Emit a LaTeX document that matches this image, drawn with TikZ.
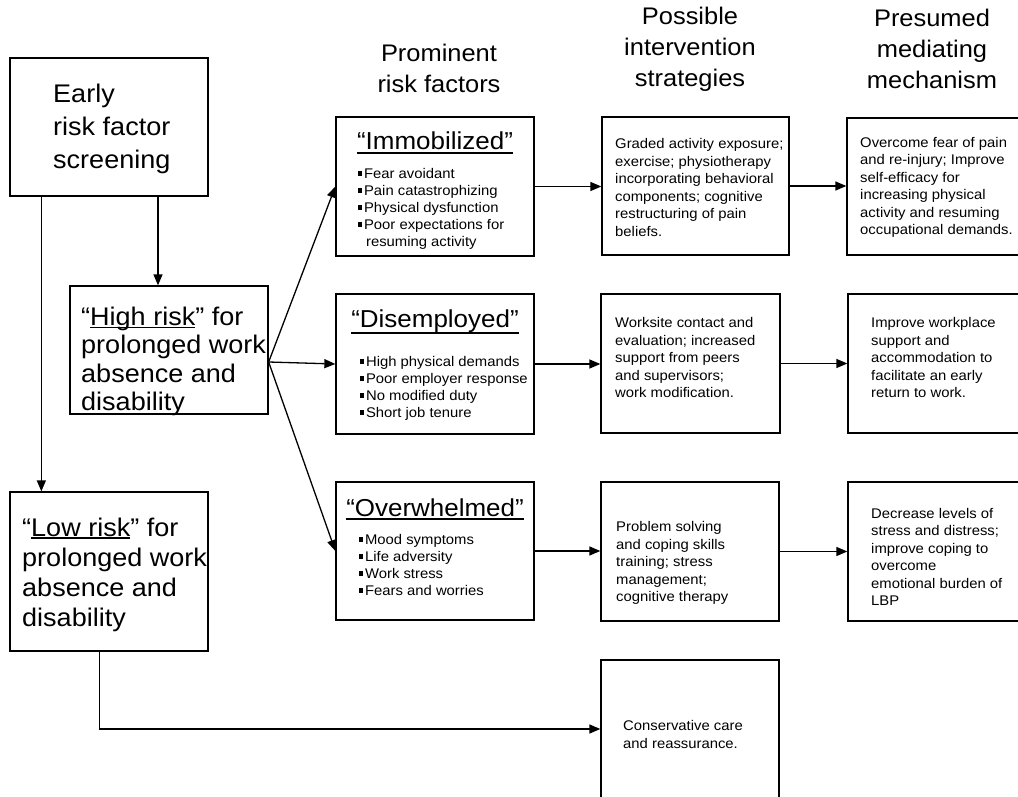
\documentclass[tikz,border=0pt]{standalone}
\usepackage{fontspec}
\setmainfont{Liberation Sans}[FakeStretch=1.06]
\usepackage{tikz}
\usetikzlibrary{arrows.meta}

% small square bullet and thick underline
\newcommand\sqb{\rule[0.2em]{0.3em}{0.3em}\hspace{0.12em}}
\newcommand\hul[1]{\setbox0=\hbox{#1}\rlap{\rule[-3pt]{\wd0}{1.6pt}}\box0}

\begin{document}
\begin{tikzpicture}[
    x=1pt, y=-1pt,
    box/.style={
        draw,
        line width=1.3pt,
        inner sep=0pt
    },
    big/.style={
        anchor=west,
        align=left,
        inner sep=0pt,
        font=\fontsize{25.5}{29}\selectfont
    },
    small/.style={
        anchor=west,
        align=left,
        inner sep=0pt,
        font=\fontsize{14}{17.5}\selectfont
    },
    head/.style={
        align=center,
        font=\fontsize{24}{31}\selectfont
    },
    ttl/.style={
        anchor=base,
        inner sep=0pt,
        font=\fontsize{24.5}{28}\selectfont
    },
    lst/.style={
        anchor=north west,
        align=left,
        inner sep=0pt,
        font=\fontsize{14}{17}\selectfont
    },
    arr/.style={
        -{Triangle[length=11pt,width=9pt]},
        line width=1.3pt
    },
    uline/.style={
        line width=1.8pt
    }
]

\useasboundingbox (0,0) rectangle (1018,797);

% Column headings
\node[head] (hrisk) at (439,68) {Prominent\\risk factors};
\node[head] (hint) at (690,49) {Possible\\intervention\\strategies};
\node[head] (hmech) at (932,49) {Presumed\\mediating\\mechanism};

% Screening and risk groups
\node[box, minimum width=198pt, minimum height=138pt] (early) at (109,127) {};
\node[big, font=\fontsize{25.5}{33}\selectfont] (earlyT) at (53,129)
    {Early\\risk factor\\screening};

\node[box, minimum width=198pt, minimum height=128pt] (high) at (169,350) {};
\node[big, font=\fontsize{25.5}{28.5}\selectfont] (highT) at (81,361.5)
    {“\hul{High risk}” for\\prolonged work\\absence and\\disability};

\node[box, minimum width=198pt, minimum height=159pt] (low) at (109,571.5) {};
\node[big, font=\fontsize{25.5}{30}\selectfont] (lowT) at (22,574.5)
    {“\hul{Low risk}” for\\prolonged work\\absence and\\disability};

% Prominent risk factors
\node[box, minimum width=198pt, minimum height=139pt] (imm) at (435,186.5) {};
\node[ttl] (immT) at (435,150) {“Immobilized”};
\draw[uline] ([yshift=-2.5pt]immT.south west) -- ([yshift=-2.5pt]immT.south east);
\node[lst] (immL) at (358,168)
    {\sqb Fear avoidant\\\sqb Pain catastrophizing\\\sqb Physical dysfunction\\
     \sqb Poor expectations for\\\hphantom{\sqb}\hspace{2pt}resuming activity};

\node[box, minimum width=198pt, minimum height=140pt] (dis) at (435,364) {};
\node[ttl] (disT) at (435,327) {“Disemployed”};
\draw[uline] ([yshift=-1pt]disT.south west) -- ([yshift=-1pt]disT.south east);
\node[lst] (disL) at (360,356)
    {\sqb High physical demands\\\sqb Poor employer response\\
     \sqb No modified duty\\\sqb Short job tenure};

\node[box, minimum width=198pt, minimum height=138pt] (ovw) at (435,551) {};
\node[ttl] (ovwT) at (435,516) {“Overwhelmed”};
\draw[uline] ([yshift=-2.5pt]ovwT.south west) -- ([yshift=-2.5pt]ovwT.south east);
\node[lst] (ovwL) at (359,534)
    {\sqb Mood symptoms\\\sqb Life adversity\\\sqb Work stress\\\sqb Fears and worries};

% Possible intervention strategies
\node[box, minimum width=187pt, minimum height=138pt] (grd) at (695.5,186) {};
\node[small] (grdT) at (615,187.5)
    {Graded activity exposure;\\exercise; physiotherapy\\incorporating behavioral\\
     components; cognitive\\restructuring of pain\\beliefs.};
\node[box, minimum width=179pt, minimum height=139pt] (wrk) at (690.5,363.5) {};
\node[small] (wrkT) at (615,357.5)
    {Worksite contact and\\evaluation; increased\\support from peers\\
     and supervisors;\\work modification.};
\node[box, minimum width=178pt, minimum height=139pt] (prb) at (690,551.5) {};
\node[small] (prbT) at (616,563)
    {Problem solving\\and coping skills\\training; stress\\management;\\cognitive therapy};
\node[box, minimum width=178pt, minimum height=138pt] (cns) at (690,729) {};
\node[small] (cnsT) at (623,734.5)
    {Conservative care\\and reassurance.};

% Presumed mediating mechanism
\node[box, minimum width=173pt, minimum height=137pt] (ovc) at (933.5,186.5) {};
\node[small] (ovcT) at (860,187.5)
    {Overcome fear of pain\\and re-injury; Improve\\self-efficacy for\\
     increasing physical\\activity and resuming\\occupational demands.};
\node[box, minimum width=172pt, minimum height=139pt] (imp) at (934,363.5) {};
\node[small] (impT) at (871,357.5)
    {Improve workplace\\support and\\accommodation to\\facilitate an early\\return to work.};
\node[box, minimum width=172pt, minimum height=139pt] (dec) at (934,551.5) {};
\node[small] (decT) at (871,557)
    {Decrease levels of\\stress and distress;\\improve coping to\\overcome\\
     emotional burden of\\LBP};

% Screening splits
\draw[arr] ([xshift=49pt]early.south) -- ([xshift=49pt]early.south |- high.north);
\draw[arr] ([xshift=32pt]early.south west) -- ([xshift=32pt]low.north west);
\draw[arr] ([xshift=90pt]low.south west) |- (cns.west);

% High risk fans out
\coordinate (hub) at ([yshift=-12pt]high.east);
\draw[arr] (hub) -- (imm.west);
\draw[arr] (hub) -- (dis.west);
\draw[arr] (hub) -- (ovw.west);

% Rows
\draw[arr] (imm.east) -- (imm.east -| grd.west);
\draw[arr] (grd.east) -- (grd.east -| ovc.west);
\draw[arr] (dis.east) -- (dis.east -| wrk.west);
\draw[arr] (wrk.east) -- (wrk.east -| imp.west);
\draw[arr] (ovw.east) -- (ovw.east -| prb.west);
\draw[arr] (prb.east) -- (prb.east -| dec.west);

\end{tikzpicture}
\end{document}
